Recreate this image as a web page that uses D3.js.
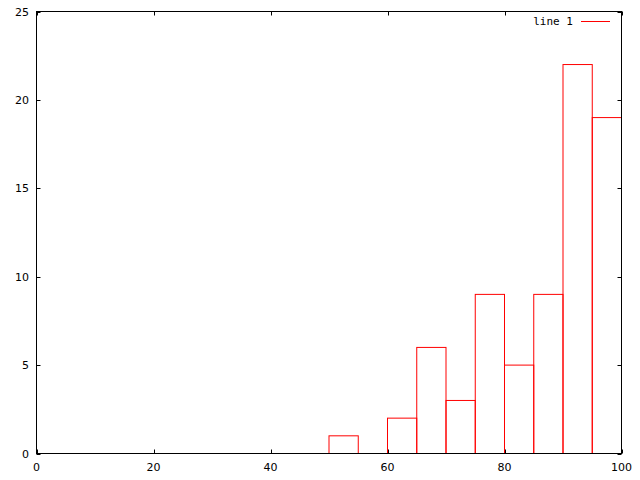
<!DOCTYPE html>
<html><head><meta charset="utf-8">
<script src="https://cdn.jsdelivr.net/npm/d3@7"></script>
<style>body{margin:0;background:#fff}</style>
</head><body>
<svg id="c" width="640" height="480"></svg>
<script>
const binStarts = [50, 55, 60, 65, 70, 75, 80, 85, 90, 95];
const counts    = [1, 0, 2, 6, 3, 9, 5, 9, 22, 19];
const binWidth = 5;
const xTicks = [0, 20, 40, 60, 80, 100];
const yTicks = [0, 5, 10, 15, 20, 25];
const legendLabel = "line 1";

const svg = d3.select("#c");
const L = 36.5, R = 621.5, T = 11.5, B = 453.5;
const x = d3.scaleLinear().domain([0, 100]).range([L, R]);
const y = d3.scaleLinear().domain([0, 25]).range([B, T]);
const font = "DejaVu Sans, sans-serif";

// bars
svg.append("g").selectAll("rect").data(binStarts.map((s,i)=>({s, v: counts[i]})).filter(d=>d.v>0))
  .join("rect")
  .attr("x", d => x(d.s)).attr("width", d => x(d.s+binWidth) - x(d.s))
  .attr("y", d => y(d.v)).attr("height", d => y(0) - y(d.v))
  .attr("fill", "none").attr("stroke", "#ff0000").attr("stroke-width", 1);

// frame
svg.append("rect").attr("x", L).attr("y", T).attr("width", R-L).attr("height", B-T)
  .attr("fill", "none").attr("stroke", "#000").attr("stroke-width", 1);

const tl = 4;
const g = svg.append("g").attr("stroke", "#000").attr("stroke-width", 1);
xTicks.forEach(t => {
  const px = Math.round(x(t)) + 0.5;
  g.append("line").attr("x1", px).attr("x2", px).attr("y1", B).attr("y2", B - tl);
  g.append("line").attr("x1", px).attr("x2", px).attr("y1", T).attr("y2", T + tl);
});
yTicks.forEach(t => {
  const py = Math.round(y(t)) + 0.5;
  g.append("line").attr("x1", L).attr("x2", L + tl).attr("y1", py).attr("y2", py);
  g.append("line").attr("x1", R).attr("x2", R - tl).attr("y1", py).attr("y2", py);
});

svg.append("g").selectAll("text").data(xTicks).join("text")
  .attr("x", d => x(d)).attr("y", 471).attr("text-anchor", "middle")
  .attr("font-family", font).attr("font-size", 11).text(d => d);
svg.append("g").selectAll("text").data(yTicks).join("text")
  .attr("x", 29).attr("y", d => y(d) + 4).attr("text-anchor", "end")
  .attr("font-family", font).attr("font-size", 11).text(d => d);

// legend
svg.append("text").attr("x", 573).attr("y", 25).attr("text-anchor", "end")
  .attr("font-family", "DejaVu Sans Mono, monospace").attr("font-size", 11).text(legendLabel);
svg.append("line").attr("x1", 581).attr("x2", 610).attr("y1", 21.5).attr("y2", 21.5)
  .attr("stroke", "#ff0000").attr("stroke-width", 1);
</script>
</body></html>
